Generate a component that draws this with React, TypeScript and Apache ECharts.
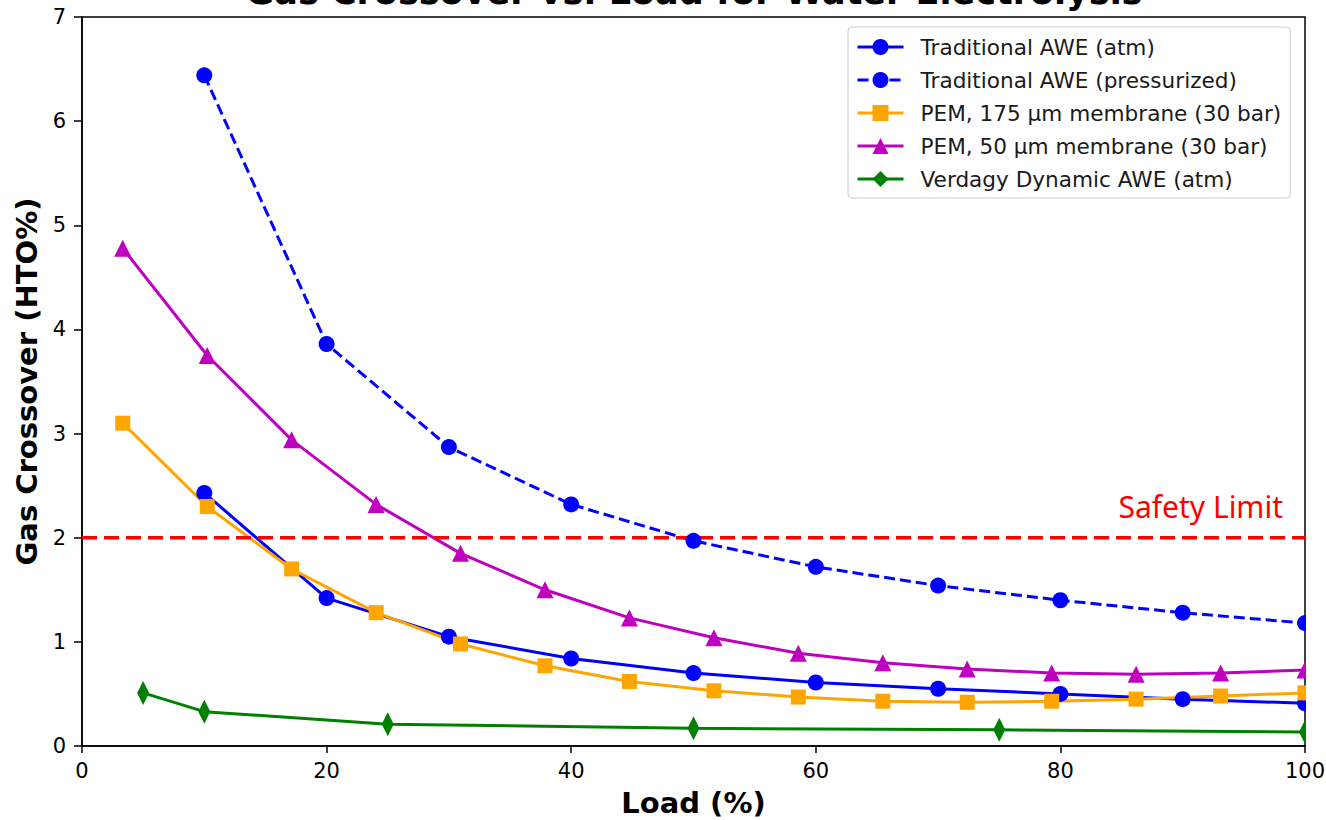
import React, { useEffect, useRef } from "react";
import * as echarts from "echarts";

const titleText = "Gas Crossover vs. Load for Water Electrolysis";
const xName = "Load (%)";
const yName = "Gas Crossover (HTO%)";

const loadAWE = [10, 20, 30, 40, 50, 60, 70, 80, 90, 100];
const aweAtm = [2.43, 1.42, 1.05, 0.84, 0.7, 0.61, 0.55, 0.5, 0.45, 0.41];
const awePress = [6.44, 3.86, 2.87, 2.32, 1.97, 1.72, 1.54, 1.4, 1.28, 1.18];

const loadPEM = [3.33, 10.24, 17.14, 24.05, 30.95, 37.86, 44.76, 51.67, 58.57, 65.48, 72.38, 79.29, 86.19, 93.1, 100];
const pem175 = [3.1, 2.3, 1.7, 1.28, 0.98, 0.77, 0.62, 0.53, 0.47, 0.43, 0.42, 0.43, 0.45, 0.48, 0.51];
const pem50 = [4.78, 3.75, 2.94, 2.32, 1.85, 1.5, 1.23, 1.04, 0.89, 0.8, 0.74, 0.7, 0.69, 0.7, 0.73];

const loadVerdagy = [5, 10, 25, 50, 75, 100];
const verdagy = [0.51, 0.33, 0.21, 0.17, 0.155, 0.135];

const safetyLimit = 2;
const safetyLabel = "Safety Limit";

const seriesNames = [
  "Traditional AWE (atm)",
  "Traditional AWE (pressurized)",
  "PEM, 175 µm membrane (30 bar)",
  "PEM, 50 µm membrane (30 bar)",
  "Verdagy Dynamic AWE (atm)",
];

const zip = (xs: number[], ys: number[]) => xs.map((x, i) => [x, ys[i]]);

export default function App() {
  const ref = useRef<HTMLDivElement>(null);
  useEffect(() => {
    if (!ref.current) return;
    const chart = echarts.init(ref.current, undefined, { renderer: "svg" });
    const font = "DejaVu Sans";
    const mk = (
      name: string,
      data: number[][],
      color: string,
      symbol: string,
      symbolSize: number | number[],
      dashed = false
    ) => ({
      name,
      type: "line",
      data,
      symbol,
      symbolSize,
      showSymbol: true,
      clip: true,
      color,
      itemStyle: { color, borderWidth: 0 },
      lineStyle: { color, width: 3, type: dashed ? [11, 5] : "solid" },
      emphasis: { disabled: true },
    });
    chart.setOption({
      animation: false,
      backgroundColor: "#ffffff",
      textStyle: { fontFamily: font },
      grid: {
        left: 82,
        top: 17,
        right: 21,
        bottom: 74,
        outerBoundsMode: "none",
        containLabel: false,
        show: true,
        borderColor: "#000",
        borderWidth: 1.5,
        backgroundColor: "transparent",
      },
      graphic: [
        {
          type: "rect",
          shape: { x: 1306, y: 0, width: 20, height: 745 },
          style: { fill: "#ffffff" },
          z: 50,
        },
        {
          type: "text",
          x: 694,
          y: -8,
          style: {
            text: titleText,
            fontFamily: font,
            fontWeight: "bold",
            fontSize: 35,
            fill: "#000",
            textAlign: "center",
            textVerticalAlign: "middle",
          },
        },
        {
          type: "text",
          x: 1283,
          y: 506,
          z: 100,
          style: {
            text: safetyLabel,
            fontFamily: "Noto Sans",
            fontSize: 30,
            fill: "#ff0000",
            textAlign: "right",
            textVerticalAlign: "middle",
          },
        },
      ],
      legend: {
        orient: "vertical",
        left: 848,
        top: 27,
        data: seriesNames,
        padding: [9, 9, 8, 8],
        itemGap: 11,
        itemWidth: 46,
        itemHeight: 20,
        lineStyle: { width: 3 },
        backgroundColor: "rgba(255,255,255,0.8)",
        borderColor: "#cccccc",
        borderWidth: 1,
        borderRadius: 4,
        textStyle: {
          fontFamily: font,
          fontSize: 21.6,
          color: "#1a1a1a",
          lineHeight: 22,
          padding: [0, 0, 0, 12],
        },
      },
      xAxis: {
        type: "value",
        min: 0,
        max: 100,
        interval: 20,
        name: xName,
        nameLocation: "middle",
        nameGap: 42,
        nameTextStyle: { fontFamily: font, fontWeight: "bold", fontSize: 29, color: "#000" },
        axisLine: { show: true, lineStyle: { color: "#000", width: 1.5 } },
        axisTick: { show: true, length: 7, lineStyle: { color: "#000", width: 1.5 } },
        axisLabel: { color: "#000", fontSize: 21, fontFamily: font, margin: 14 },
        splitLine: { show: false },
      },
      yAxis: {
        type: "value",
        min: 0,
        max: 7,
        interval: 1,
        name: yName,
        nameLocation: "middle",
        nameGap: 40,
        nameRotate: 90,
        nameTextStyle: { fontFamily: font, fontWeight: "bold", fontSize: 29, color: "#000" },
        axisLine: { show: true, lineStyle: { color: "#000", width: 1.5 } },
        axisTick: { show: true, length: 8, lineStyle: { color: "#000", width: 1.5 } },
        axisLabel: { color: "#000", fontSize: 21, fontFamily: font, margin: 16 },
        splitLine: { show: false },
      },
      series: [
        mk(seriesNames[0], zip(loadAWE, aweAtm), "#0000ff", "circle", 16),
        mk(seriesNames[1], zip(loadAWE, awePress), "#0000ff", "circle", 16, true),
        mk(seriesNames[2], zip(loadPEM, pem175), "#ffa500", "rect", 15),
        mk(seriesNames[3], zip(loadPEM, pem50), "#bf00bf", "triangle", 17),
        mk(seriesNames[4], zip(loadVerdagy, verdagy), "#008000", "diamond", [12, 24]),
        {
          name: "safety",
          type: "line",
          data: [
            [0, safetyLimit],
            [100, safetyLimit],
          ],
          symbol: "none",
          lineStyle: { color: "#ff0000", width: 3.5, type: [15, 7] },
          emphasis: { disabled: true },
          z: 3,
        },
      ],
    });
    return () => chart.dispose();
  }, []);
  return (
    <div
      ref={ref}
      style={{ position: "absolute", left: 0, top: 0, width: 1326, height: 820 }}
    />
  );
}
